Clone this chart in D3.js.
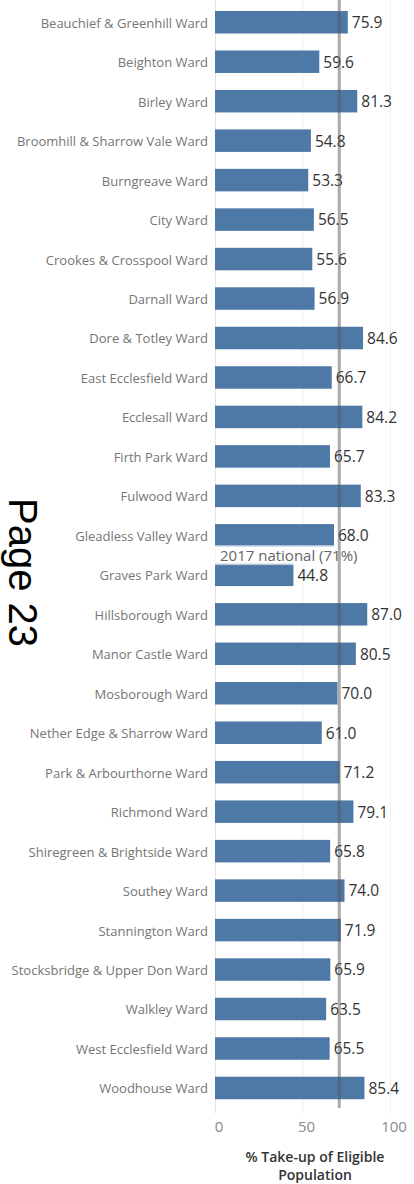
<!DOCTYPE html>
<html>
<head>
<meta charset="utf-8">
<script src="https://cdn.jsdelivr.net/npm/d3@7"></script>
<style>
  body { margin: 0; background: #fff; }
  #chart text { font-family: "Open Sans", "Noto Sans", sans-serif; }
</style>
</head>
<body>
<div id="chart"></div>
<script>
// ward names, top to bottom
const wards = [
  "Beauchief & Greenhill Ward", "Beighton Ward", "Birley Ward",
  "Broomhill & Sharrow Vale Ward", "Burngreave Ward", "City Ward",
  "Crookes & Crosspool Ward", "Darnall Ward", "Dore & Totley Ward",
  "East Ecclesfield Ward", "Ecclesall Ward", "Firth Park Ward",
  "Fulwood Ward", "Gleadless Valley Ward", "Graves Park Ward",
  "Hillsborough Ward", "Manor Castle Ward", "Mosborough Ward",
  "Nether Edge & Sharrow Ward", "Park & Arbourthorne Ward", "Richmond Ward",
  "Shiregreen & Brightside Ward", "Southey Ward", "Stannington Ward",
  "Stocksbridge & Upper Don Ward", "Walkley Ward", "West Ecclesfield Ward",
  "Woodhouse Ward"
];

// % take-up of eligible population
const takeUp = [
  75.9, 59.6, 81.3, 54.8, 53.3, 56.5, 55.6, 56.9, 84.6, 66.7,
  84.2, 65.7, 83.3, 68.0, 44.8, 87.0, 80.5, 70.0, 61.0, 71.2,
  79.1, 65.8, 74.0, 71.9, 65.9, 63.5, 65.5, 85.4
];

const xTicks = [0, 50, 100];
const refValue = 71;
const refLabel = "2017 national (71%)";
const axisTitle = ["% Take-up of Eligible", "Population"];
const pageLabel = "Page 23";

const W = 414, H = 1184;
const data = wards.map((w, i) => ({ ward: w, value: takeUp[i] }));

const svg = d3.select("#chart")
  .append("svg")
    .attr("width", W)
    .attr("height", H);

let x = d3.scaleLinear()
  .domain([0, 100])
  .range([215, 390]);

let y = d3.scaleBand()
  .domain(wards)
  .range([2.5, 1107.7])
  .paddingInner(0.43)
  .paddingOuter(0.215);

// gridlines
svg.append("g")
  .selectAll("line")
  .data(xTicks)
  .enter()
  .append("line")
    .attr("x1", d => x(d) + 0.5)
    .attr("x2", d => x(d) + 0.5)
    .attr("y1", 0)
    .attr("y2", 1113)
    .attr("stroke", d => d === 0 ? "#e2e2e2" : "#efefef")
    .attr("stroke-width", 1);

// tick labels
svg.append("g")
  .selectAll("text")
  .data(xTicks)
  .enter()
  .append("text")
    .attr("x", d => x(d) + 4)
    .attr("y", 1132)
    .attr("text-anchor", "middle")
    .style("font-size", "15px")
    .style("fill", "#8a8a8a")
    .text(d => d);

// axis title
svg.append("text")
  .attr("text-anchor", "middle")
  .style("font-size", "14px")
  .style("font-weight", "600")
  .style("fill", "#333")
  .selectAll("tspan")
  .data(axisTitle)
  .enter()
  .append("tspan")
    .attr("x", 315)
    .attr("y", (d, i) => 1162 + i * 18)
    .text(d => d);

// bars
svg.append("g")
  .selectAll("rect")
  .data(data)
  .enter()
  .append("rect")
    .attr("x", x(0))
    .attr("y", d => y(d.ward))
    .attr("width", d => x(d.value) - x(0))
    .attr("height", y.bandwidth())
    .style("fill", "#4e79a7");

// ward labels
svg.append("g")
  .selectAll("text")
  .data(data)
  .enter()
  .append("text")
    .attr("x", 208)
    .attr("y", d => y(d.ward) + y.bandwidth() / 2)
    .attr("dy", "0.42em")
    .attr("text-anchor", "end")
    .style("font-size", "13px")
    .style("fill", "#757575")
    .text(d => d.ward);

// value labels
svg.append("g")
  .selectAll("text")
  .data(data)
  .enter()
  .append("text")
    .attr("x", d => x(d.value) + 4)
    .attr("y", d => y(d.ward) + y.bandwidth() / 2)
    .attr("dy", "0.38em")
    .style("font-size", "15.5px")
    .style("fill", "#333")
    .text(d => d.value.toFixed(1));

// reference line label box + text
let midY = (y.range()[0] + y.range()[1]) / 2;
svg.append("rect")
  .attr("x", x(0))
  .attr("y", midY - 10)
  .attr("width", x(refValue) - x(0))
  .attr("height", 20)
  .style("fill", "#fff")
  .style("opacity", 0.6);

svg.append("text")
  .attr("x", x(0) + 5)
  .attr("y", midY)
  .attr("dy", "0.38em")
  .style("font-size", "15px")
  .style("fill", "#666")
  .text(refLabel);

// reference line
svg.append("line")
  .attr("x1", x(refValue))
  .attr("x2", x(refValue))
  .attr("y1", 0)
  .attr("y2", 1108)
  .attr("stroke", "#555")
  .attr("stroke-opacity", 0.5)
  .attr("stroke-width", 3);

// page stamp
svg.append("text")
  .attr("transform", "translate(9,498) rotate(90)")
  .style("font-family", "'Liberation Sans', Arial, sans-serif")
  .style("font-size", "40px")
  .style("fill", "#000")
  .text(pageLabel);
</script>
</body>
</html>
